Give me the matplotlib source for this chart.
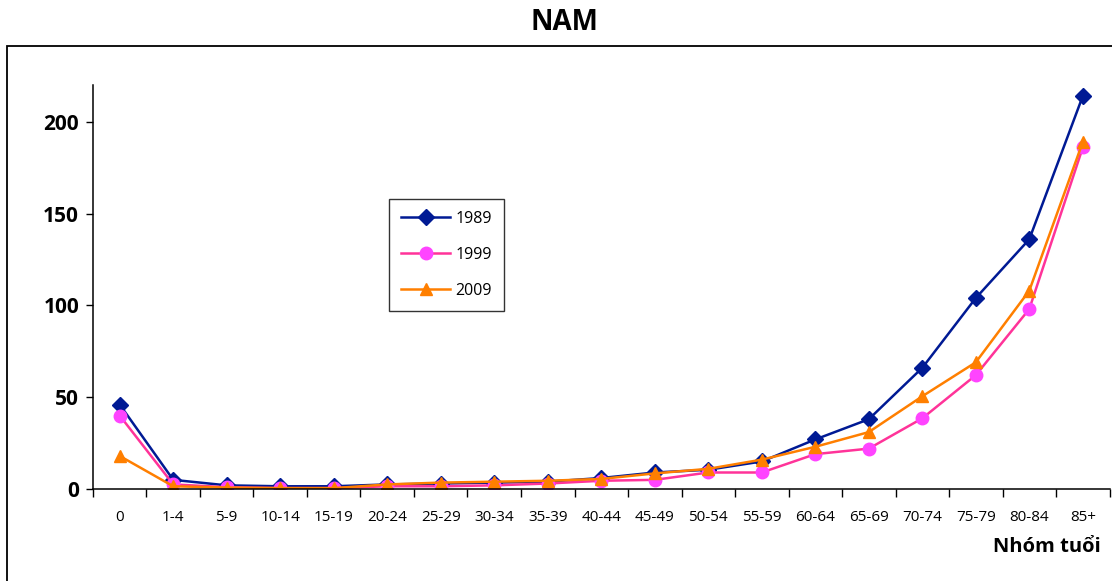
import numpy as np
import matplotlib.pyplot as plt
from matplotlib.patches import Rectangle

plt.rcParams['font.family'] = ['Open Sans', 'DejaVu Sans']

groups = ["0", "1-4", "5-9", "10-14", "15-19", "20-24", "25-29", "30-34",
          "35-39", "40-44", "45-49", "50-54", "55-59", "60-64", "65-69",
          "70-74", "75-79", "80-84", "85+"]
y1989 = [46, 5, 2, 1.5, 1.5, 2.5, 3, 3.5, 4, 6, 9, 10.5, 15, 27, 38,
         66, 104, 136, 214]
y1999 = [40, 2.5, 1, 0.5, 0.5, 1.5, 1.5, 2, 3, 4.5, 5, 9, 9, 19, 22,
         38.5, 62, 98, 186]
y2009 = [18, 1.5, 0.8, 0.5, 0.5, 2.5, 3.5, 4, 4.5, 5.5, 8.5, 11, 16, 23, 31,
         50.5, 69, 108, 189]

fig = plt.figure(figsize=(11.12, 5.81), dpi=100)
ax = fig.add_axes([0.0836, 0.1583, 0.9142, 0.6954])

x = np.arange(len(groups))
ax.plot(x, y1989, color="#001a94", lw=1.8, marker="D", ms=8,
        mfc="#001a94", mec="#001a94", label="1989")
ax.plot(x, y1999, color="#ff3399", lw=1.8, marker="o", ms=9,
        mfc="#ff44ff", mec="#ff44ff", label="1999")
ax.plot(x, y2009, color="#ff7f00", lw=1.8, marker="^", ms=9,
        mfc="#ff7f00", mec="#ff7f00", label="2009")

ax.set_xlim(-0.5, len(groups) - 0.5)
ax.set_ylim(0, 220)
ax.set_yticks([0, 50, 100, 150, 200])
ax.tick_params(axis="y", direction="out", length=5, width=1, pad=5,
               labelsize=15)
for lbl in ax.get_yticklabels():
    lbl.set_fontweight("bold")

# boundaries get tick marks, categories get the labels
ax.set_xticks(np.arange(len(groups) + 1) - 0.5)
ax.set_xticklabels([])
ax.set_xticks(x, minor=True)
ax.set_xticklabels(groups, minor=True)
ax.tick_params(axis="x", which="major", direction="out", length=6, width=1)
ax.tick_params(axis="x", which="minor", length=0, pad=15, labelsize=11)

for s in ["top", "right"]:
    ax.spines[s].set_visible(False)
for s in ["left", "bottom"]:
    ax.spines[s].set_linewidth(1.1)

leg = ax.legend(loc="upper left", bbox_to_anchor=(0.291, 0.718),
                borderaxespad=0, frameon=True, fancybox=False,
                edgecolor="black", fontsize=11.5, handlelength=3.1,
                labelspacing=1.25, borderpad=0.75, handletextpad=0.3)
leg.get_frame().set_linewidth(1.0)

fig.text(0.508, 0.962, "NAM", ha="center", va="center",
         fontsize=20, fontweight="bold")
fig.text(0.990, 0.058, "Nhóm tuổi", ha="right", va="center",
         fontsize=14.5, fontweight="bold")

# outer frame around the chart
fig.patches.append(Rectangle((0.0065, -0.05), 1.2, 0.97,
                             transform=fig.transFigure, fill=False,
                             edgecolor="black", lw=1.3))

fig.savefig("out.png", dpi=100)
